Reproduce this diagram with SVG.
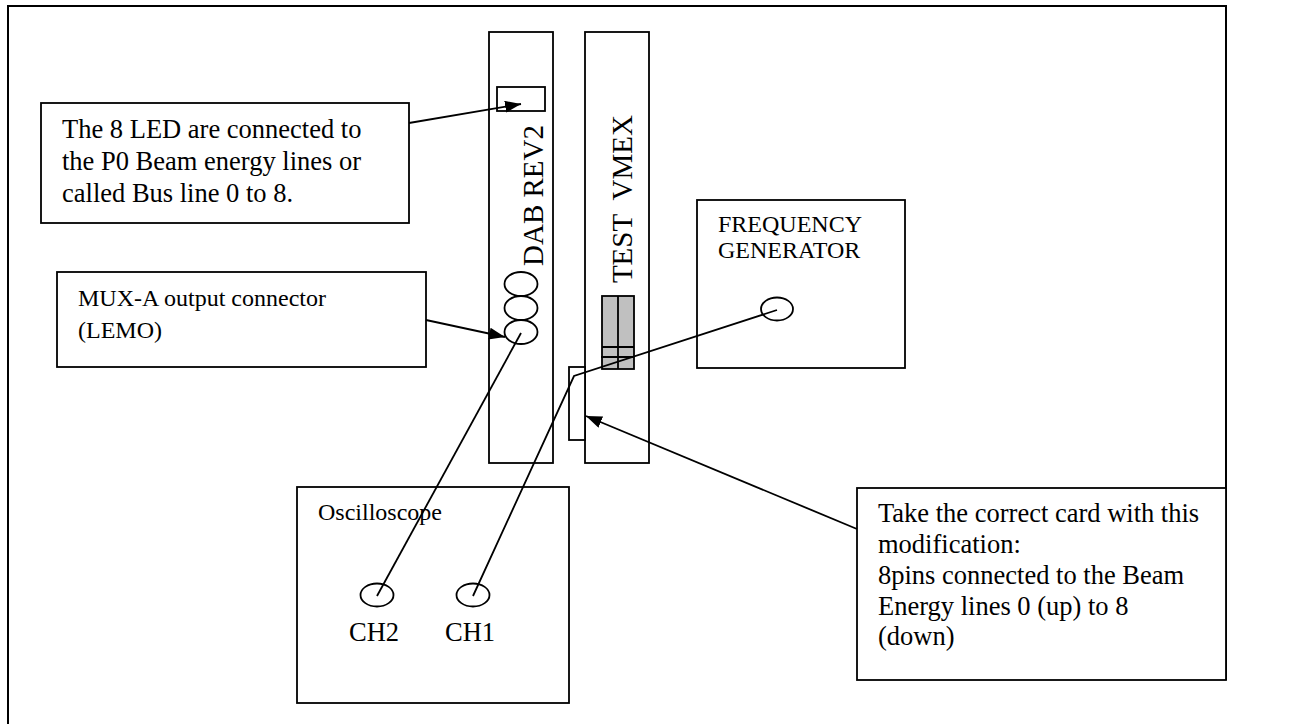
<svg xmlns="http://www.w3.org/2000/svg" width="1289" height="724" viewBox="0 0 1289 724">
<style>
.box{fill:#fff;stroke:#000;stroke-width:1.8}
.ln{fill:none;stroke:#000;stroke-width:1.8}
.t{font-family:"Liberation Serif","Times New Roman",serif;fill:#000}
.t12{font-size:26.5px}
.t11{font-size:24px}
.tv{font-size:29px}
.oval{fill:none;stroke:#000;stroke-width:1.8}
</style>
<defs>
<marker id="ah" markerUnits="userSpaceOnUse" markerWidth="17" markerHeight="13" refX="16" refY="6" orient="auto">
<path d="M0,0 L16,6 L0,12 z" fill="#000"/>
</marker>
</defs>
<rect width="1289" height="724" fill="#fff"/>
<g id="frame"><path d="M8,730 L8,6 L1226,6 L1226,680" fill="none" stroke="#000" stroke-width="2"/></g>

<g id="dab">
<rect class="box" x="489" y="32" width="64" height="431"/>
<rect class="box" x="497" y="87" width="48" height="24"/>
<ellipse class="oval" cx="521" cy="284" rx="16.5" ry="12"/>
<ellipse class="oval" cx="521" cy="308" rx="16.5" ry="12"/>
<ellipse class="oval" cx="521" cy="332" rx="16.5" ry="12"/>
<text class="t tv" text-anchor="end" transform="translate(543,125) rotate(-90)">DAB REV2</text>
</g>

<g id="vmex">
<rect class="box" x="585" y="32" width="64" height="431"/>
<rect x="602" y="296" width="32" height="73" fill="#c0c0c0" stroke="#000" stroke-width="1.8"/>
<path class="ln" d="M618,296 L618,369 M602,347 L634,347 M601,357 L634,357"/>
<rect class="box" x="569" y="367" width="16" height="73"/>
<text class="t tv" text-anchor="end" transform="translate(632,115) rotate(-90)" xml:space="preserve">TEST  VMEX</text>
</g>

<g id="led-note">
<rect class="box" x="41" y="103" width="368" height="120"/>
<text class="t t12" x="62" y="138">The 8 LED are connected to</text>
<text class="t t12" x="62" y="170">the P0 Beam energy lines or</text>
<text class="t t12" x="62" y="202">called Bus line 0 to 8.</text>
</g>

<g id="mux-note">
<rect class="box" x="57" y="272" width="369" height="95"/>
<text class="t t11" x="78" y="306">MUX-A output connector</text>
<text class="t t11" x="78" y="338">(LEMO)</text>
</g>

<g id="freq-gen">
<rect class="box" x="697" y="200" width="208" height="168"/>
<text class="t t11" x="718" y="232">FREQUENCY</text>
<text class="t t11" x="718" y="258">GENERATOR</text>
<ellipse class="oval" cx="777" cy="309" rx="16" ry="11.5"/>
</g>

<g id="oscilloscope">
<rect class="box" x="297" y="487" width="272" height="216"/>
<text class="t t11" x="318" y="520">Oscilloscope</text>
<ellipse class="oval" cx="377" cy="595" rx="16.5" ry="11.5"/>
<ellipse class="oval" cx="473" cy="595" rx="16.5" ry="11.5"/>
<text class="t t12" x="349" y="641">CH2</text>
<text class="t t12" x="445" y="641">CH1</text>
</g>

<g id="card-note">
<rect class="box" x="857" y="488" width="369" height="192"/>
<text class="t t12" x="878" y="522">Take the correct card with this</text>
<text class="t t12" x="878" y="553">modification:</text>
<text class="t t12" x="878" y="584">8pins connected to the Beam</text>
<text class="t t12" x="878" y="615">Energy lines 0 (up) to 8</text>
<text class="t t12" x="878" y="645">(down)</text>
</g>

<g id="connectors">
<line class="ln" x1="409" y1="123" x2="521" y2="104" marker-end="url(#ah)"/>
<line class="ln" x1="426" y1="320" x2="505" y2="337" marker-end="url(#ah)"/>
<line class="ln" x1="857" y1="529" x2="586" y2="416" marker-end="url(#ah)"/>
<line class="ln" x1="521" y1="333" x2="377" y2="596"/>
<polyline class="ln" points="777,310 574,376 473,596"/>
</g>
</svg>
